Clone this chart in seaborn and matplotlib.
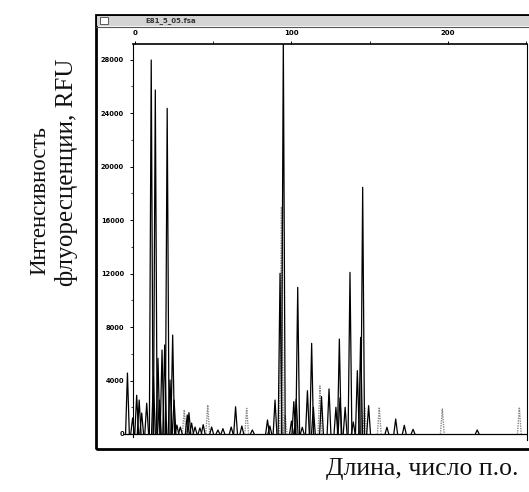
import matplotlib
matplotlib.use("Agg")
import matplotlib.pyplot as plt
import seaborn as sns
import pandas as pd
from matplotlib.patches import Rectangle

sns.set_theme(style="white")
plt.rcParams['font.family'] = ['DejaVu Sans']

# ---- data ----
# sample trace (black): peak positions (bp) and heights (RFU)
sample_pos = [-4.8, -1.5, 1.1, 2.7, 4.3, 7.5, 10.4, 11.8, 13.0, 14.7, 15.6, 17.3, 19.0, 20.6,
              22.4, 24.1, 25.0, 26.8, 29.0, 33.4, 34.5, 36.2, 38.4, 41.5, 43.6, 49.0, 53.0,
              56.2, 61.5, 64.3, 68.3, 75.0, 84.7, 86.2, 89.5, 92.7, 94.8, 100.0, 101.5, 103.0,
              104.0, 106.9, 110.2, 112.9, 114.0, 119.2, 124.0, 128.4, 130.6, 131.0, 134.3,
              137.4, 139.5, 142.1, 144.2, 145.5, 149.3, 161.0, 166.6, 172.1, 177.7, 218.7]
sample_h = [4560, 1200, 2900, 2540, 1570, 2300, 27975, 4300, 25730, 5660, 2540, 6280, 6660, 24360,
            4040, 7400, 2540, 670, 520, 1420, 1600, 820, 520, 450, 700, 520, 300,
            400, 520, 2040, 600, 300, 1050, 600, 2540, 12020, 29600, 970, 2420, 2600,
            10970, 500, 3240, 6780, 2000, 2800, 3370, 2000, 7100, 2700, 2000,
            12090, 900, 4740, 7230, 18450, 2120, 500, 1120, 650, 350, 300]

# size standard trace (grey, dotted)
std_pos = [31.5, 46.5, 71.4, 93.6, 96.0, 118.2, 146.8, 156.1, 196.4, 245.6]
std_h = [1800, 2170, 1920, 17000, 1420, 3600, 2000, 2000, 1870, 2000]

y_ticks = [0, 4000, 8000, 12000, 16000, 20000, 24000, 28000]
x_ticks_major = [0, 100, 200]
x_ticks_minor = [50, 150, 250]

HALF_W = 1.2  # peak half-width in bp (style)


def peaks_frame(pos, h, name):
    rows = []
    for i, (p, v) in enumerate(zip(pos, h)):
        rows += [(name, i, p - HALF_W, 0.0), (name, i, p, v), (name, i, p + HALF_W, 0.0)]
    return pd.DataFrame(rows, columns=["trace", "peak", "bp", "rfu"])


df_s = peaks_frame(sample_pos, sample_h, "sample")
df_std = peaks_frame(std_pos, std_h, "standard")

W, H = 529, 492
fig = plt.figure(figsize=(W / 100, H / 100), dpi=100)
fig.patch.set_facecolor("white")


def fx(px):
    return px / W


def fy(py):
    return 1 - py / H


# window frame
fig.patches.append(Rectangle((fx(96), fy(449)), fx(540) - fx(96), fy(15) - fy(449),
                             transform=fig.transFigure, fill=False, lw=2.0, ec="black", zorder=0))
fig.patches.append(Rectangle((fx(97), fy(26)), fx(540) - fx(97), fy(16) - fy(26),
                             transform=fig.transFigure, fill=True, fc="#d4d4d4", ec="none", zorder=0))
fig.lines.append(plt.Line2D([fx(96), fx(540)], [fy(26.5), fy(26.5)], transform=fig.transFigure,
                            color="#555555", lw=0.8))
fig.patches.append(Rectangle((fx(100), fy(24)), fx(8), fy(17) - fy(24),
                             transform=fig.transFigure, fill=True, fc="white", ec="#444444", lw=0.6))
fig.text(fx(145), fy(21), "E81_5_05.fsa", fontsize=5, fontweight="bold", color="#333333",
         ha="left", va="center")

# plot area
YMAX = 29210
ax = fig.add_axes([fx(124), fy(440), fx(527) - fx(124), fy(43.5) - fy(440)])
ax.set_facecolor("white")

ax.axhline(0, color="black", lw=0.9, zorder=1)
sns.lineplot(data=df_std, x="bp", y="rfu", units="peak", estimator=None, ax=ax,
             color="#8a8a8a", lw=1.0, linestyle=(0, (1, 0.8)), legend=False, zorder=2)
sns.lineplot(data=df_s, x="bp", y="rfu", units="peak", estimator=None, ax=ax,
             color="black", lw=0.9, legend=False, zorder=3)

ax.set_xlim(-7, 250.5)
ax.set_ylim(-449, YMAX)
ax.set_xlabel("")
ax.set_ylabel("")

ax.spines["bottom"].set_visible(False)
ax.spines["left"].set_position(("data", -1.3))
for s in ["left", "top", "right"]:
    ax.spines[s].set_color("black")
ax.spines["left"].set_linewidth(0.8)
ax.spines["left"].set_bounds(-200, YMAX)
ax.spines["top"].set_linewidth(1.2)
ax.spines["top"].set_bounds(-1.3, 250.5)
ax.spines["right"].set_linewidth(0.8)

ax.xaxis.set_ticks_position("top")
ax.set_xticks(x_ticks_major)
ax.set_xticklabels([str(t) for t in x_ticks_major])
ax.set_xticks(x_ticks_minor, minor=True)
ax.tick_params(axis="x", which="major", direction="out", length=2.5, width=0.7, pad=3,
               labelsize=5, colors="black")
ax.tick_params(axis="x", which="minor", direction="out", length=2, width=0.7, top=True, bottom=False)
for lab in ax.get_xticklabels():
    lab.set_fontweight("bold")

ax.set_yticks(y_ticks)
ax.set_yticklabels([str(t) for t in y_ticks])
ax.set_yticks([2000 + 4000 * i for i in range(7)], minor=True)
ax.tick_params(axis="y", which="major", direction="out", length=2.5, width=0.7, pad=4,
               labelsize=4.8, colors="black", left=True)
ax.tick_params(axis="y", which="minor", direction="out", length=1.5, width=0.6, left=True)
for lab in ax.get_yticklabels():
    lab.set_fontweight("bold")

# axis titles (outside the window)
serif = ["Liberation Serif", "DejaVu Serif"]
fig.text(fx(40), fy(201), "Интенсивность", rotation=90, fontsize=16.5, family=serif,
         ha="center", va="center", color="#111111")
fig.text(fx(66), fy(172), "флуоресценции, RFU", rotation=90, fontsize=18, family=serif,
         ha="center", va="center", color="#111111")
fig.text(fx(422), fy(469), "Длина, число п.о.", fontsize=18.5, family=serif,
         ha="center", va="center", color="#111111")

fig.savefig("out.png", dpi=100, facecolor="white")
